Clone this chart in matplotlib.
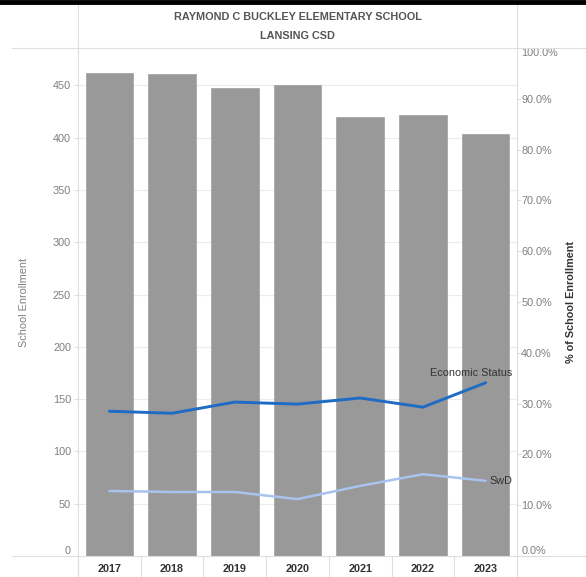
import matplotlib
matplotlib.use("Agg")
import matplotlib.pyplot as plt
from matplotlib.lines import Line2D
from matplotlib.ticker import FuncFormatter

plt.rcParams['font.family'] = ['Liberation Sans', 'DejaVu Sans']

years = ["2017", "2018", "2019", "2020", "2021", "2022", "2023"]
enrollment = [462, 461, 448, 450, 420, 422, 404]
econ_pct = [0.285, 0.281, 0.303, 0.299, 0.311, 0.293, 0.341]
swd_pct = [0.128, 0.126, 0.126, 0.112, 0.138, 0.161, 0.148]
left_ticks = [0, 50, 100, 150, 200, 250, 300, 350, 400, 450]
right_ticks = [0.0, 0.1, 0.2, 0.3, 0.4, 0.5, 0.6, 0.7, 0.8, 0.9, 1.0]
title1 = "RAYMOND C BUCKLEY ELEMENTARY SCHOOL"
title2 = "LANSING CSD"

W, H = 586, 577
fig = plt.figure(figsize=(W / 100, H / 100), dpi=100)

def fx(px):
    return px / W

def fy(py):
    return 1 - py / H

L, R, T, B = 78, 517, 48, 556
ax = fig.add_axes([fx(L), fy(B), fx(R - L), fy(T) - fy(B)])
x = list(range(len(years)))

grid_c = "#ececec"
line_c = "#dedede"
tick_c = "#7f7f7f"

ax.set_xlim(-0.5, len(years) - 0.5)
ax.set_ylim(0, 485.8)
ax.set_yticks(left_ticks)
for t in left_ticks[1:]:
    ax.axhline(t, color=grid_c, lw=0.8, zorder=0)
ax.bar(x, enrollment, width=0.76, color="#999999", edgecolor="#a6a6a6", linewidth=0.6, zorder=2)

for s in ax.spines.values():
    s.set_visible(False)

ax.set_xticks(x)
ax.set_xticklabels(years, fontsize=7.8, fontweight="bold", color="#333333")
ax.tick_params(axis="x", which="major", length=0, pad=6)
ax.set_xticks([i - 0.5 for i in range(len(years) + 1)], minor=True)
ax.tick_params(axis="x", which="minor", length=15, color=line_c, width=0.8)

ax.tick_params(axis="y", length=3, color=line_c, labelsize=7.8, labelcolor=tick_c, pad=2)
ylabs = ax.get_yticklabels()
ylabs[0].set_va("bottom")
ax.set_ylabel("School Enrollment", fontsize=7.8, color=tick_c, labelpad=17)

ax2 = ax.twinx()
ax2.set_ylim(0, 1.0)
ax2.set_yticks(right_ticks)
ax2.yaxis.set_major_formatter(FuncFormatter(lambda v, p: f"{v * 100:.1f}%"))
ax2.tick_params(axis="y", length=3, color=line_c, labelsize=7.8, labelcolor=tick_c, pad=0)
r_labs = ax2.get_yticklabels()
r_labs[0].set_va("bottom")
r_labs[-1].set_va("top")
for s in ax2.spines.values():
    s.set_visible(False)
ax2.set_ylabel("% of School Enrollment", fontsize=7.8, fontweight="bold", color="#333333", labelpad=6)

ax2.plot(x, econ_pct, color="#1f6cc4", lw=2.1, zorder=3, solid_capstyle="round")
ax2.plot(x, swd_pct, color="#a8c3ee", lw=1.8, zorder=3, solid_capstyle="round")
ax2.annotate("Economic Status", xy=(x[-1], econ_pct[-1]), xytext=(27, 10), textcoords="offset pixels",
             ha="right", va="center", fontsize=7.8, color="#333333")
ax2.annotate("SwD", xy=(x[-1], swd_pct[-1]), xytext=(4, 0), textcoords="offset pixels",
             ha="left", va="center", fontsize=7.8, color="#333333")

# frame lines
fig.add_artist(Line2D([fx(12), 1], [fy(T), fy(T)], color=line_c, lw=0.8))
fig.add_artist(Line2D([fx(12), 1], [fy(B), fy(B)], color=line_c, lw=0.8))
fig.add_artist(Line2D([fx(L), fx(L)], [fy(5), 0], color=line_c, lw=0.8))
fig.add_artist(Line2D([fx(R), fx(R)], [fy(5), 0], color=line_c, lw=0.8))
fig.add_artist(Line2D([0, 1], [fy(2), fy(2)], color="black", lw=3.5))

fig.text(fx((L + R) / 2), fy(17), title1, ha="center", va="center", fontsize=7.8,
         fontweight="bold", color="#555555")
fig.text(fx((L + R) / 2), fy(36), title2, ha="center", va="center", fontsize=7.8,
         fontweight="bold", color="#555555")

fig.savefig("out.png", dpi=100)
